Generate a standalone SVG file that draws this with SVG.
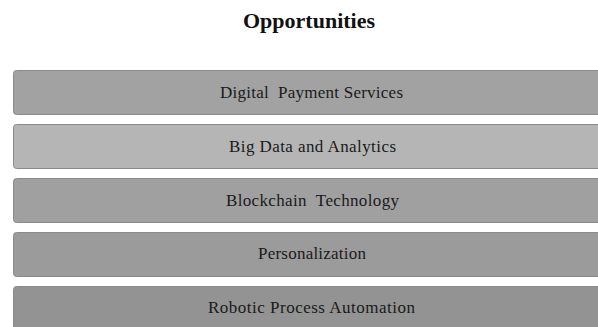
<svg xmlns="http://www.w3.org/2000/svg" width="598" height="327" viewBox="0 0 598 327">
  <style>
    .title { font-family: "Liberation Serif", serif; font-weight: bold; font-size: 22px; fill: #111; }
    .box { stroke: #8a8a8a; stroke-width: 1; }
    .label { font-family: "Liberation Serif", serif; font-size: 17px; fill: #1a1a1a; }
  </style>
  <rect width="598" height="327" fill="#ffffff"/>
  <text class="title" x="309" y="28" text-anchor="middle">Opportunities</text>
  <g id="node-digital-payment">
    <rect class="box" x="13.5" y="70.5" width="600" height="44" rx="3" fill="#a2a2a2"/>
    <text class="label" x="220" y="97.5" textLength="183" lengthAdjust="spacing" xml:space="preserve">Digital  Payment Services</text>
  </g>
  <g id="node-big-data">
    <rect class="box" x="13.5" y="124.5" width="600" height="44" rx="3" fill="#b5b5b5" stroke="#a8a8a8"/>
    <text class="label" x="229" y="151.5" textLength="167" lengthAdjust="spacing">Big Data and Analytics</text>
  </g>
  <g id="node-blockchain">
    <rect class="box" x="13.5" y="178.5" width="600" height="44" rx="3" fill="#a0a0a0"/>
    <text class="label" x="226" y="205.5" textLength="173" lengthAdjust="spacing" xml:space="preserve">Blockchain  Technology</text>
  </g>
  <g id="node-personalization">
    <rect class="box" x="13.5" y="232.5" width="600" height="44" rx="3" fill="#9b9b9b"/>
    <text class="label" x="258" y="259" textLength="108" lengthAdjust="spacing">Personalization</text>
  </g>
  <g id="node-rpa">
    <rect class="box" x="13.5" y="286.5" width="600" height="60" rx="3" fill="#939393"/>
    <text class="label" x="208" y="313" textLength="207" lengthAdjust="spacing">Robotic Process Automation</text>
  </g>
  <g id="connectors"/>
</svg>
